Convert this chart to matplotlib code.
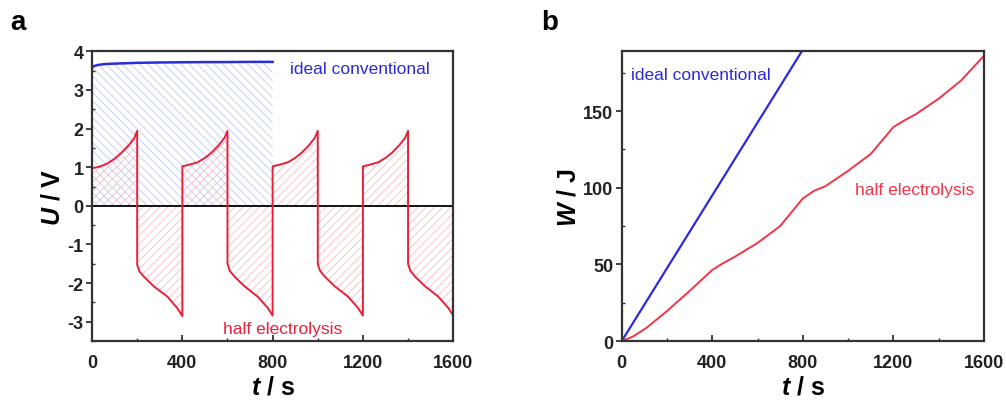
import matplotlib.pyplot as plt
import numpy as np

plt.rcParams['font.family'] = ['Liberation Sans', 'DejaVu Sans']
plt.rcParams['axes.unicode_minus'] = False
plt.rcParams['mathtext.fontset'] = 'custom'
plt.rcParams['mathtext.it'] = 'Liberation Sans:italic:bold'
plt.rcParams['mathtext.bf'] = 'Liberation Sans:bold'
plt.rcParams['mathtext.rm'] = 'Liberation Sans:bold'

# panel a: voltage profiles
t_ideal = [0, 10, 30, 60, 100, 150, 200, 300, 400, 500, 600, 700, 800]
u_ideal = [3.58, 3.62, 3.65, 3.67, 3.68, 3.69, 3.70, 3.71, 3.715, 3.72, 3.72, 3.725, 3.725]

t_half = [0, 15, 30, 50, 69, 100, 128, 160, 187, 200,
          200, 210, 231, 275, 334, 378, 400,
          400, 405, 420, 440, 469, 500, 528, 560, 587, 600,
          600, 610, 631, 675, 734, 778, 800,
          800, 805, 820, 840, 869, 900, 928, 960, 987, 1000,
          1000, 1010, 1031, 1075, 1134, 1178, 1200,
          1200, 1205, 1220, 1240, 1269, 1300, 1328, 1360, 1387, 1400,
          1400, 1410, 1431, 1475, 1534, 1578, 1600]
u_half = [0.98, 0.99, 1.01, 1.05, 1.10, 1.22, 1.36, 1.55, 1.75, 1.94,
          -1.53, -1.70, -1.84, -2.09, -2.35, -2.65, -2.85,
          1.02, 1.03, 1.05, 1.08, 1.13, 1.24, 1.37, 1.56, 1.76, 1.94,
          -1.50, -1.68, -1.83, -2.08, -2.35, -2.64, -2.84,
          1.02, 1.03, 1.05, 1.08, 1.13, 1.24, 1.37, 1.56, 1.76, 1.94,
          -1.50, -1.68, -1.83, -2.08, -2.35, -2.64, -2.84,
          1.02, 1.03, 1.05, 1.08, 1.13, 1.24, 1.37, 1.56, 1.76, 1.94,
          -1.50, -1.68, -1.83, -2.08, -2.35, -2.64, -2.84]

# panel b: energy
t_w_ideal = [0, 400, 800]
w_ideal = [0, 95, 190]

t_w_half = [0, 50, 110, 200, 300, 400, 450, 500, 600, 700, 800, 850, 900,
            1000, 1100, 1200, 1250, 1300, 1400, 1500, 1600]
w_half = [0, 3, 8.7, 19.6, 32.7, 46.4, 51, 55, 64, 75, 93, 98, 101,
          111, 122, 139.5, 144, 148, 158, 170, 186]

blue = '#2b2bd9'
red = '#e8203a'
red_b = '#f03548'
spine_c = '#333333'

fig = plt.figure(figsize=(10.06, 4.02), dpi=100)
ax1 = fig.add_axes([0.0915, 0.149, 0.359, 0.721])
ax2 = fig.add_axes([0.618, 0.149, 0.360, 0.721])

plt.rcParams['hatch.linewidth'] = 0.6

ax1.fill_between(t_ideal, 0, u_ideal, facecolor='none', edgecolor='#bcc8f2',
                 hatch='\\\\\\\\', linewidth=0)
ax1.fill_between(t_half, 0, u_half, facecolor='none', edgecolor='#f6bcc4',
                 hatch='////', linewidth=0)
ax1.axhline(0, color='black', lw=1.3)
ax1.plot(t_ideal, u_ideal, color=blue, lw=1.8)
ax1.plot(t_half, u_half, color=red, lw=1.4)
ax1.set_xlim(0, 1600)
ax1.set_ylim(-3.5, 4)
ax1.set_xticks([0, 400, 800, 1200, 1600])
ax1.set_xticks([200, 600, 1000, 1400], minor=True)
ax1.set_yticks([-3, -2, -1, 0, 1, 2, 3, 4])
ax1.set_yticks(np.arange(-3.5, 4, 1.0), minor=True)
ax1.text(877, 3.56, 'ideal conventional', color=blue, fontsize=12.5, va='center')
ax1.text(580, -3.17, 'half electrolysis', color=red, fontsize=12.5, va='center')
ax1.set_xlabel(r'$\it{t}$ / s', fontsize=18, fontweight='bold', labelpad=3)
ax1.set_ylabel(r'$\it{U}$ / V', fontsize=18, fontweight='bold', labelpad=2)

ax2.plot(t_w_ideal, w_ideal, color=blue, lw=1.6)
ax2.plot(t_w_half, w_half, color=red_b, lw=1.4)
ax2.set_xlim(0, 1600)
ax2.set_ylim(0, 189)
ax2.set_xticks([0, 400, 800, 1200, 1600])
ax2.set_xticks([200, 600, 1000, 1400], minor=True)
ax2.set_yticks([0, 50, 100, 150])
ax2.set_yticks([25, 75, 125, 175], minor=True)
ax2.text(40, 174, 'ideal conventional', color=blue, fontsize=12.5, va='center')
ax2.text(1030, 99, 'half electrolysis', color=red_b, fontsize=12.5, va='center')
ax2.set_xlabel(r'$\it{t}$ / s', fontsize=18, fontweight='bold', labelpad=3)
ax2.set_ylabel(r'$\it{W}$ / J', fontsize=18, fontweight='bold', labelpad=2)

for ax in (ax1, ax2):
    for s in ax.spines.values():
        s.set_linewidth(1.6)
        s.set_color(spine_c)
    ax.tick_params(axis='x', which='major', direction='in', length=4, width=1.3,
                   labelsize=13, colors=spine_c, pad=9)
    ax.tick_params(axis='y', which='major', direction='out', length=4, width=1.3,
                   labelsize=13, colors=spine_c, pad=2)
    ax.tick_params(which='minor', direction='in', length=2.5, width=1.0, colors=spine_c)
    for lab in ax.get_xticklabels() + ax.get_yticklabels():
        lab.set_fontweight('bold')
        lab.set_color('#222222')

fig.text(0.010, 0.925, 'a', fontsize=20, fontweight='bold')
fig.text(0.538, 0.925, 'b', fontsize=20, fontweight='bold')

plt.savefig('out.png', dpi=100)
